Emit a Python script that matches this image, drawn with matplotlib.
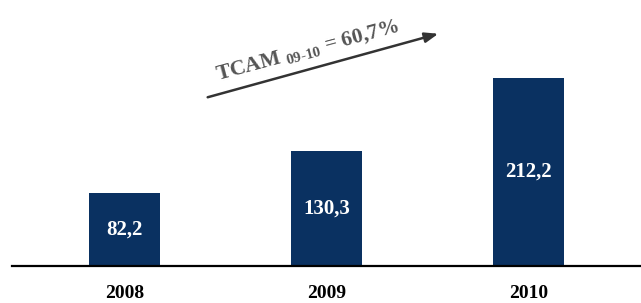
import matplotlib
matplotlib.use("Agg")
import matplotlib.pyplot as plt

years = ["2008", "2009", "2010"]
values = [82.2, 130.3, 212.2]
value_labels = ["82,2", "130,3", "212,2"]
cagr_label = "TCAM $_{\\mathregular{09\u201010}}$ = 60,7%"

plt.rcParams["font.family"] = ["Liberation Serif", "DejaVu Serif"]
plt.rcParams["font.weight"] = "bold"
plt.rcParams["mathtext.fontset"] = "custom"
plt.rcParams["mathtext.rm"] = "Liberation Serif:bold"
plt.rcParams["mathtext.it"] = "Liberation Serif:bold"
plt.rcParams["mathtext.bf"] = "Liberation Serif:bold"

fig = plt.figure(figsize=(6.41, 3.03), dpi=100)
ax = fig.add_axes([0.018, 0.1205, 0.982, 0.8795])

x = list(range(len(years)))
bars = ax.bar(x, values, width=0.35, color="#0a3161")
for xi, v, lab in zip(x, values, value_labels):
    ax.text(xi, v / 2, lab, ha="center", va="center", color="white",
            fontsize=15, fontweight="bold")

ax.set_xlim(-0.56, 2.557)
ax.set_ylim(0, 299.4)
for s in ["top", "right", "left"]:
    ax.spines[s].set_visible(False)
ax.spines["bottom"].set_linewidth(1.6)
ax.set_yticks([])
ax.set_xticks(x)
ax.set_xticklabels(years, fontsize=14, fontweight="bold")
ax.tick_params(axis="x", length=0, pad=13.5)

# growth arrow (figure pixel coords)
ax.annotate("", xy=(441 / 641, 1 - 33 / 303), xytext=(205 / 641, 1 - 98 / 303),
            xycoords="figure fraction", textcoords="figure fraction",
            arrowprops=dict(arrowstyle="-|>,head_length=0.8,head_width=0.3",
                            color="#333333", lw=1.8))
fig.text(308 / 641, 1 - 50 / 303, cagr_label, rotation=15, ha="center", va="center",
         fontsize=15.5, fontweight="bold", color="#555555", rotation_mode="anchor")

fig.savefig("out.png", dpi=100)
